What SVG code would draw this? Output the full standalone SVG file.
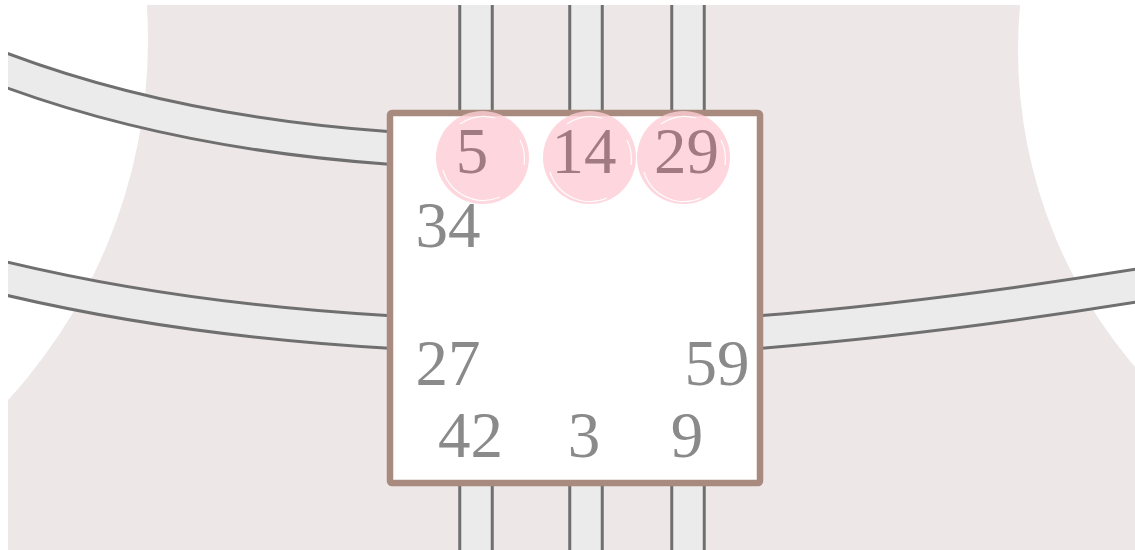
<svg xmlns="http://www.w3.org/2000/svg" width="1135" height="550" viewBox="0 0 1135 550">
  <defs>
    <style>
      .road-edge { fill: none; stroke: #6f6f6f; stroke-width: 35.5; }
      .road-fill { fill: none; stroke: #ebebeb; stroke-width: 29.5; }
      .num { font-family: "Liberation Serif", "DejaVu Serif", serif; font-size: 65px; fill: #8a8a8a; text-anchor: middle; }
      .num.hl { fill: #a07c82; }
      .hl-circle { fill: #fdcdd4; fill-opacity: 0.8; }
      .sketch { fill: none; stroke: #ffffff; stroke-width: 1.2; stroke-opacity: 0.9; }
    </style>
    <clipPath id="frame">
      <rect x="8" y="5" width="1127" height="545"/>
    </clipPath>
  </defs>
  <rect x="0" y="0" width="1135" height="550" fill="#ffffff"/>
  <g clip-path="url(#frame)">
    <g id="ground">
      <rect x="8" y="5" width="1127" height="545" fill="#ede7e7"/>
      <circle cx="-385" cy="40" r="533" fill="#ffffff"/>
      <circle cx="1506" cy="50" r="488" fill="#ffffff"/>
    </g>
    <g id="connectors">
      <path class="road-edge" d="M0,68 Q171,132.5 390,148"/>
      <path class="road-edge" d="M0,277 Q177,319.7 390,332"/>
      <path class="road-edge" d="M760,332 Q935,318 1140,285"/>
      <path class="road-edge" d="M476,0 V113 M586,0 V113 M688,0 V113"/>
      <path class="road-edge" d="M476,483 V555 M586,483 V555 M688,483 V555"/>
      <path class="road-fill" d="M0,68 Q171,132.5 390,148"/>
      <path class="road-fill" d="M0,277 Q177,319.7 390,332"/>
      <path class="road-fill" d="M760,332 Q935,318 1140,285"/>
      <path class="road-fill" d="M476,0 V113 M586,0 V113 M688,0 V113"/>
      <path class="road-fill" d="M476,483 V555 M586,483 V555 M688,483 V555"/>
    </g>
  </g>
  <g id="station">
    <rect x="390" y="113" width="370" height="370" rx="2" fill="#ffffff" stroke="#a88b7e" stroke-width="6.5" stroke-linejoin="round"/>
  </g>
  <g id="n34"><text class="num" x="448" y="247">34</text></g>
  <g id="n27"><text class="num" x="448" y="385">27</text></g>
  <g id="n59"><text class="num" x="717" y="385">59</text></g>
  <g id="n42"><text class="num" x="470.5" y="457">42</text></g>
  <g id="n3"><text class="num" x="584" y="457">3</text></g>
  <g id="n9"><text class="num" x="687" y="457">9</text></g>
  <g id="n5">
    <circle class="hl-circle" cx="482.5" cy="157.5" r="46.5"/>
    <path class="sketch" d="M443,170 A42,42 0 0 0 500,197 M520,140 A42,42 0 0 1 524,165 M460,124 A42,42 0 0 1 495,118"/>
    <text class="num hl" x="472" y="173">5</text>
  </g>
  <g id="n14">
    <circle class="hl-circle" cx="589.5" cy="157.5" r="46.5"/>
    <path class="sketch" d="M550,172 A42,42 0 0 0 607,198 M627,140 A42,42 0 0 1 631,165 M567,124 A42,42 0 0 1 602,118"/>
    <text class="num hl" x="584" y="173">14</text>
  </g>
  <g id="n29">
    <circle class="hl-circle" cx="683.5" cy="157.5" r="46.5"/>
    <path class="sketch" d="M644,172 A42,42 0 0 0 701,198 M721,140 A42,42 0 0 1 725,165 M661,124 A42,42 0 0 1 696,118"/>
    <text class="num hl" x="686.5" y="173">29</text>
  </g>
</svg>
